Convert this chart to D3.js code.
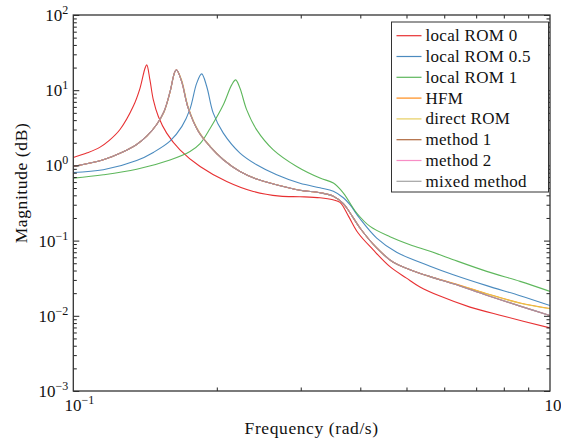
<!DOCTYPE html>
<html>
<head>
<meta charset="utf-8">
<script src="https://cdn.jsdelivr.net/npm/d3@7"></script>
<style>
body { margin:0; background:#fff; }
text { font-family: "Liberation Serif", "Times New Roman", serif; fill:#111; }
</style>
</head>
<body>
<div id="plot"></div>
<script>
// frequency response data (freq in rad/s, magnitude)
var freqROM0 = [0.100,0.107,0.1138,0.119,0.1253,0.1336,0.1380,0.1414,0.1426,0.1448,0.1472,0.1508,0.1570,0.1674,0.1845,0.2098,0.2386,0.2714,0.2989,0.3292,0.3505,0.3626,0.378,0.3955,0.4254,0.4616,0.500,0.5336,0.5877,0.6796,0.7971,1.0];
var magROM0  = [1.27,1.47,1.75,2.15,3.0,6.1,10.6,19.6,21.7,13.7,7.43,4.46,2.69,1.61,0.967,0.611,0.450,0.390,0.383,0.371,0.349,0.322,0.210,0.127,0.0757,0.0450,0.0317,0.0242,0.01828,0.01305,0.00994,0.0069];

var freqROM05 = [0.1,0.1156,0.1358,0.1475,0.1595,0.169,0.1757,0.1815,0.1859,0.1905,0.1966,0.2064,0.2237,0.2425,0.2671,0.2989,0.3292,0.3512,0.3686,0.3805,0.3994,0.4330,0.4767,0.5603,0.6268,0.7366,0.8654,1.0];
var magROM05  = [0.805,0.874,1.16,1.5,2.1,3.3,5.6,12.4,16.5,11.2,4.95,2.69,1.46,1.02,0.750,0.578,0.504,0.453,0.371,0.300,0.1954,0.108,0.0700,0.0457,0.0352,0.0252,0.0185,0.0137];

var freqROM1 = [0.1,0.1156,0.1358,0.1595,0.1757,0.1845,0.1936,0.2064,0.2149,0.2191,0.2237,0.2311,0.2425,0.2628,0.2942,0.3292,0.3512,0.3686,0.3931,0.4193,0.4616,0.5085,0.5603,0.6268,0.7366,0.8654,1.0];
var magROM1  = [0.678,0.750,0.887,1.18,1.53,1.95,3.1,6.4,11.76,13.7,10.6,5.47,2.97,1.61,0.967,0.678,0.582,0.429,0.233,0.1545,0.1127,0.0883,0.0723,0.0557,0.039,0.0287,0.0211];

var freqFull = [0.1,0.1156,0.127,0.1358,0.1426,0.1496,0.155,0.1595,0.1634,0.1648,0.1688,0.1742,0.1830,0.1936,0.2064,0.2237,0.2425,0.2671,0.2989,0.3292,0.3512,0.3686,0.3805,0.3994,0.4330,0.4692,0.5085,0.5603,0.6268,0.7366,0.8654,1.0];
var magHFM     = [0.967,1.19,1.51,1.9,2.45,3.5,5.2,9.4,17.7,18.6,13.0,5.77,2.82,1.78,1.19,0.830,0.658,0.552,0.467,0.433,0.389,0.309,0.235,0.147,0.0798,0.0514,0.0411,0.0332,0.0270,0.0197,0.0148,0.0125];
var magDirect  = [0.967,1.19,1.51,1.9,2.45,3.5,5.1,9.3,17.6,18.6,13.6,6.0,2.90,1.80,1.20,0.833,0.660,0.553,0.468,0.433,0.389,0.309,0.235,0.147,0.0800,0.0514,0.0411,0.0332,0.0269,0.0196,0.0147,0.0124];
var magMethod1 = [0.967,1.19,1.51,1.9,2.45,3.5,5.2,9.4,17.7,18.6,13.0,5.77,2.82,1.78,1.19,0.830,0.658,0.552,0.467,0.433,0.389,0.309,0.235,0.147,0.0798,0.0514,0.0411,0.0332,0.0266,0.0188,0.01345,0.0101];
var magMethod2 = [0.967,1.19,1.51,1.9,2.45,3.5,5.2,9.4,17.7,18.6,13.0,5.77,2.82,1.78,1.19,0.830,0.658,0.552,0.467,0.433,0.389,0.309,0.235,0.147,0.0798,0.0514,0.0411,0.0332,0.0266,0.0188,0.01345,0.0101];
var magMixed   = [0.967,1.19,1.51,1.9,2.45,3.5,5.2,9.4,17.7,18.6,13.0,5.77,2.82,1.78,1.19,0.830,0.658,0.552,0.467,0.433,0.389,0.309,0.235,0.147,0.0798,0.0514,0.0411,0.0332,0.0266,0.0188,0.01345,0.0101];

var names  = ['local ROM 0','local ROM 0.5','local ROM 1','HFM','direct ROM','method 1','method 2','mixed method'];
var colors = ['#e41a1c','#377eb8','#4daf4a','#ff7f00','#e3c94f','#a65628','#f781bf','#999999'];
var freqs  = [freqROM0,freqROM05,freqROM1,freqFull,freqFull,freqFull,freqFull,freqFull];
var mags   = [magROM0,magROM05,magROM1,magHFM,magDirect,magMethod1,magMethod2,magMixed];

var yTickExp = [-3,-2,-1,0,1,2];
var xTickExp = [-1,0];

//drawing environment
var W = 561, H = 442;
var margin = {t:15,r:11,b:51,l:73.3};
var width = W-margin.l-margin.r,
	height = H-margin.t-margin.b;

var svg = d3.select('#plot')
	.append('svg')
	.attr('width',W)
	.attr('height',H);

var plot = svg.append('g')
	.attr('transform','translate('+margin.l+','+margin.t+')');

var x = d3.scaleLog().domain([0.1,1]).range([0,width]);
var y = d3.scaleLog().domain([0.001,100]).range([height,0]);

svg.append('clipPath').attr('id','clip')
	.append('rect').attr('width',width).attr('height',height);

var line = d3.line()
	.x(function(d){return x(d[0]);})
	.y(function(d){return y(d[1]);})
	.curve(d3.curveCatmullRom.alpha(0.5));

var curves = plot.append('g').attr('clip-path','url(#clip)');
names.forEach(function(n,i){
	var pts = freqs[i].map(function(f,j){return [f,mags[i][j]];});
	curves.append('path')
		.datum(pts)
		.attr('d',line)
		.attr('fill','none')
		.attr('stroke',colors[i])
		.attr('stroke-opacity',0.9)
		.attr('stroke-width',1.1);
});

// ticks, inward on all four sides
var yMajor = yTickExp.map(function(e){return Math.pow(10,e);});
var yMinor = [];
for(var e=-3;e<2;e++){ for(var k=2;k<10;k++){ yMinor.push(k*Math.pow(10,e)); } }
var xMinor = [];
for(var k=2;k<10;k++){ xMinor.push(k*0.1); }

var axL = d3.axisLeft(y).tickValues(yMinor).tickSize(-3.5).tickFormat('');
var axR = d3.axisRight(y).tickValues(yMinor).tickSize(-3.5).tickFormat('');
var axLM = d3.axisLeft(y).tickValues(yMajor).tickSize(-6).tickFormat('');
var axRM = d3.axisRight(y).tickValues(yMajor).tickSize(-6).tickFormat('');
var axB = d3.axisBottom(x).tickValues(xMinor).tickSize(-3.5).tickFormat('');
var axT = d3.axisTop(x).tickValues(xMinor).tickSize(-3.5).tickFormat('');

plot.append('g').call(axL);
plot.append('g').call(axLM);
plot.append('g').attr('transform','translate('+width+',0)').call(axR);
plot.append('g').attr('transform','translate('+width+',0)').call(axRM);
plot.append('g').attr('transform','translate(0,'+height+')').call(axB);
plot.append('g').call(axT);
plot.selectAll('.domain').remove();
plot.selectAll('.tick line').attr('stroke','#222').attr('stroke-width',1);

plot.append('rect')
	.attr('width',width).attr('height',height)
	.attr('fill','none').attr('stroke','#333').attr('stroke-width',1.3);

// tick labels
yTickExp.forEach(function(e){
	var t = plot.append('text')
		.attr('x',-5).attr('y',y(Math.pow(10,e))+6)
		.attr('text-anchor','end')
		.style('font-size','17px');
	t.append('tspan').text('10');
	t.append('tspan').attr('dy',-7).style('font-size','12px').text(e<0 ? '\u2212'+(-e) : e);
});
xTickExp.forEach(function(e){
	var t = plot.append('text')
		.attr('x',x(Math.pow(10,e))+6).attr('y',height+20)
		.attr('text-anchor','middle')
		.style('font-size','17px');
	t.append('tspan').text('10');
	t.append('tspan').attr('dy',-7).style('font-size','12px').text(e<0 ? '\u2212'+(-e) : e);
});

// axis labels
svg.append('text')
	.attr('x',margin.l+width/2).attr('y',434)
	.attr('text-anchor','middle')
	.style('font-size','17.5px').style('letter-spacing','0.6px')
	.text('Frequency (rad/s)');
svg.append('text')
	.attr('transform','translate(27,183) rotate(-90)')
	.attr('text-anchor','middle')
	.style('font-size','17.5px').style('letter-spacing','0.6px')
	.text('Magnitude (dB)');

// legend
var lg = svg.append('g').attr('transform','translate(391.5,22)');
lg.append('rect')
	.attr('width',157).attr('height',170)
	.attr('fill','#fff').attr('stroke','#333').attr('stroke-width',1);
names.forEach(function(n,i){
	var yy = 13.7 + i*20.8;
	lg.append('line')
		.attr('x1',5).attr('x2',30).attr('y1',yy).attr('y2',yy)
		.attr('stroke',colors[i]).attr('stroke-opacity',0.9).attr('stroke-width',1.2);
	lg.append('text')
		.attr('x',34).attr('y',yy+5.5)
		.style('font-size','17px').style('letter-spacing','0.3px')
		.text(n);
});
</script>
</body>
</html>
